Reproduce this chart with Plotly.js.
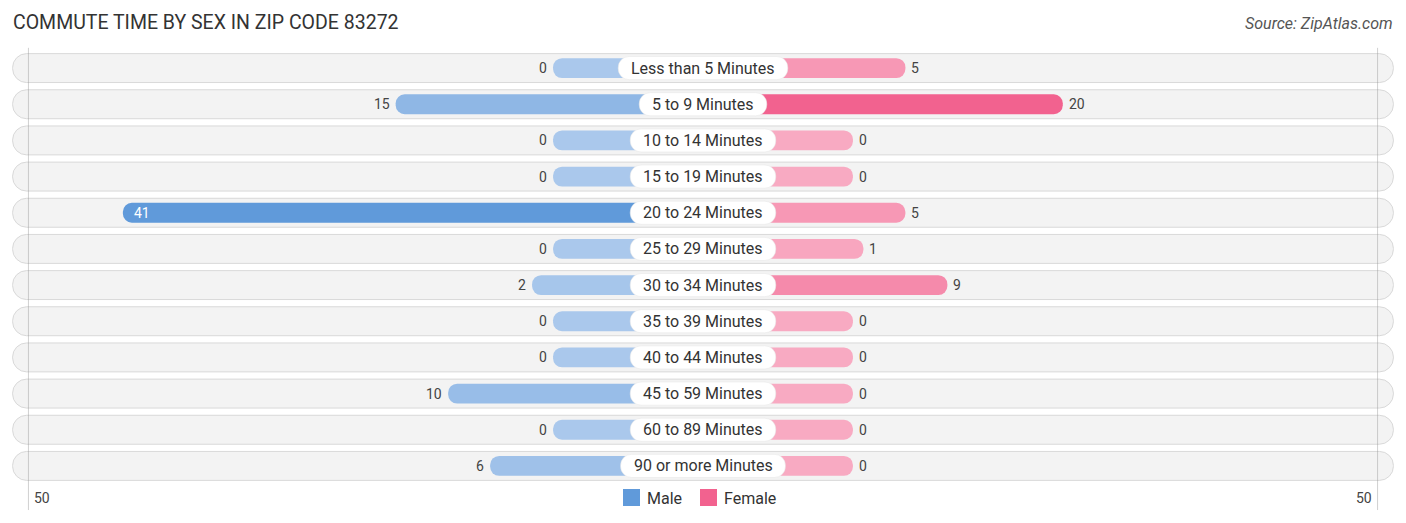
<!DOCTYPE html>
<html>
<head>
<meta charset="utf-8">
<script src="https://cdn.plot.ly/plotly-3.0.1.min.js"></script>
<style>
  body { margin: 0; background: #fff; }
  #chart { width: 1406px; height: 523px; }
</style>
</head>
<body>
<div id="chart"></div>
<script>
// data
var categories = [
  'Less than 5 Minutes', '5 to 9 Minutes', '10 to 14 Minutes', '15 to 19 Minutes',
  '20 to 24 Minutes', '25 to 29 Minutes', '30 to 34 Minutes', '35 to 39 Minutes',
  '40 to 44 Minutes', '45 to 59 Minutes', '60 to 89 Minutes', '90 or more Minutes'
];
var maleValues = [0, 15, 0, 0, 41, 0, 2, 0, 0, 10, 0, 6];
var femaleValues = [5, 20, 0, 0, 5, 1, 9, 0, 0, 0, 0, 0];
var axisMax = 50;

// the bars start behind the centre label, so every bar gets a fixed stub
var STUB = 14.29;
var RANGE = 67;
var PX_PER_UNIT = 1406 / (2 * RANGE);

function mix(c1, c2, t) {
  var r = Math.round(c1[0] + (c2[0] - c1[0]) * t);
  var g = Math.round(c1[1] + (c2[1] - c1[1]) * t);
  var b = Math.round(c1[2] + (c2[2] - c1[2]) * t);
  return 'rgb(' + r + ',' + g + ',' + b + ')';
}

var maleLight = [170, 200, 236], maleDark = [96, 154, 218];
var femaleLight = [248, 170, 194], femaleDark = [242, 98, 143];
var maleMax = Math.max.apply(null, maleValues);
var femaleMax = Math.max.apply(null, femaleValues);

var maleColors = maleValues.map(function (v) { return mix(maleLight, maleDark, v / maleMax); });
var femaleColors = femaleValues.map(function (v) { return mix(femaleLight, femaleDark, v / femaleMax); });

// width of the centre labels
var ctx = document.createElement('canvas').getContext('2d');
ctx.font = '16px Roboto';
var labelHalf = categories.map(function (c) {
  return (ctx.measureText(c).width / 2 + 13) / PX_PER_UNIT;
});

// cornerradius rounds both ends, so the pills are single bars centred on 0
var bgEnd = 65.8;
var traces = [
  {
    type: 'bar', orientation: 'h', y: categories, x: categories.map(function () { return 2 * bgEnd; }),
    base: -bgEnd, width: 0.8, showlegend: false, hoverinfo: 'skip',
    marker: { color: '#f3f3f3', line: { color: '#d9d9d9', width: 1 }, cornerradius: 14 }
  },
  {
    type: 'bar', orientation: 'h', name: 'Male', y: categories,
    x: maleValues.map(function (v) { return -(v + STUB); }),
    base: 0, width: 0.55, showlegend: false,
    marker: { color: maleColors, cornerradius: 10 }
  },
  {
    type: 'bar', orientation: 'h', name: 'Female', y: categories,
    x: femaleValues.map(function (v) { return v + STUB; }),
    base: 0, width: 0.55, showlegend: false,
    marker: { color: femaleColors, cornerradius: 10 }
  },
  {
    type: 'bar', orientation: 'h', y: categories, x: labelHalf.map(function (h) { return 2 * h; }),
    base: labelHalf.map(function (h) { return -h; }), width: 0.64, showlegend: false, hoverinfo: 'skip',
    marker: { color: '#ffffff', line: { color: '#e4e4e4', width: 0.5 }, cornerradius: 11 }
  }
];

var annotations = [];
categories.forEach(function (c, i) {
  annotations.push({
    x: 0, y: c, xref: 'x', yref: 'y', text: c, showarrow: false,
    font: { family: 'Roboto', size: 16, color: '#333' }
  });
  var m = maleValues[i];
  if (m > 30) {
    annotations.push({
      x: -(m + STUB), y: c, xref: 'x', yref: 'y', text: String(m), showarrow: false,
      xanchor: 'left', xshift: 9, font: { family: 'Roboto', size: 14, color: '#fff' }
    });
  } else {
    annotations.push({
      x: -(m + STUB), y: c, xref: 'x', yref: 'y', text: String(m), showarrow: false,
      xanchor: 'right', xshift: -4, font: { family: 'Roboto', size: 14, color: '#444' }
    });
  }
  var f = femaleValues[i];
  annotations.push({
    x: f + STUB, y: c, xref: 'x', yref: 'y', text: String(f), showarrow: false,
    xanchor: 'left', xshift: 4, font: { family: 'Roboto', size: 14, color: '#444' }
  });
});

// axis end labels
var tickY = (484 - 498) / 434;
annotations.push({
  x: -(axisMax + STUB), y: tickY, xref: 'x', yref: 'paper', yanchor: 'middle', text: String(axisMax),
  showarrow: false, xanchor: 'left', xshift: 4, font: { family: 'Roboto', size: 14, color: '#444' }
});
annotations.push({
  x: axisMax + STUB, y: tickY, xref: 'x', yref: 'paper', yanchor: 'middle', text: String(axisMax),
  showarrow: false, xanchor: 'right', xshift: -4, font: { family: 'Roboto', size: 14, color: '#444' }
});

// title and source
annotations.push({
  x: 11 / 1406, y: (484 - 22) / 434, xref: 'paper', yref: 'paper', xanchor: 'left', yanchor: 'middle',
  text: 'COMMUTE TIME BY SEX IN ZIP CODE 83272', showarrow: false,
  font: { family: 'Roboto', size: 19.5, color: '#333' }
});
annotations.push({
  x: 1395 / 1406, y: (484 - 24) / 434, xref: 'paper', yref: 'paper', xanchor: 'right', yanchor: 'middle',
  text: '<i>Source: ZipAtlas.com</i>', showarrow: false,
  font: { family: 'Roboto', size: 16, color: '#555' }
});

// legend drawn by hand
annotations.push({
  x: 645 / 1406, y: tickY, xref: 'paper', yref: 'paper', xanchor: 'left', yanchor: 'middle',
  text: 'Male', showarrow: false, font: { family: 'Roboto', size: 16, color: '#333' }
});
annotations.push({
  x: 722 / 1406, y: tickY, xref: 'paper', yref: 'paper', xanchor: 'left', yanchor: 'middle',
  text: 'Female', showarrow: false, font: { family: 'Roboto', size: 16, color: '#333' }
});

var shapes = [
  {
    type: 'line', xref: 'x', yref: 'paper', x0: -(axisMax + STUB), x1: -(axisMax + STUB),
    y0: -0.06, y1: 1.005, layer: 'above', line: { color: 'rgba(150,150,150,0.45)', width: 1 }
  },
  {
    type: 'line', xref: 'x', yref: 'paper', x0: axisMax + STUB, x1: axisMax + STUB,
    y0: -0.06, y1: 1.005, layer: 'above', line: { color: 'rgba(150,150,150,0.45)', width: 1 }
  },
  {
    type: 'rect', xref: 'paper', yref: 'paper',
    x0: 623 / 1406, x1: 640 / 1406, y0: (484 - 506) / 434, y1: (484 - 489) / 434,
    fillcolor: 'rgb(96,154,218)', line: { width: 0 }
  },
  {
    type: 'rect', xref: 'paper', yref: 'paper',
    x0: 700 / 1406, x1: 717 / 1406, y0: (484 - 506) / 434, y1: (484 - 489) / 434,
    fillcolor: 'rgb(242,98,143)', line: { width: 0 }
  }
];

var layout = {
  width: 1406, height: 523,
  margin: { l: 0, r: 0, t: 50, b: 39 },
  paper_bgcolor: '#fff', plot_bgcolor: '#fff',
  barmode: 'overlay',
  showlegend: false,
  xaxis: { range: [-RANGE, RANGE], visible: false, zeroline: false, showgrid: false, fixedrange: true },
  yaxis: {
    type: 'category', categoryarray: categories, range: [11.5, -0.5],
    visible: false, zeroline: false, showgrid: false, fixedrange: true
  },
  annotations: annotations,
  shapes: shapes
};

Plotly.newPlot('chart', traces, layout, { displayModeBar: false, staticPlot: true });
</script>
</body>
</html>
